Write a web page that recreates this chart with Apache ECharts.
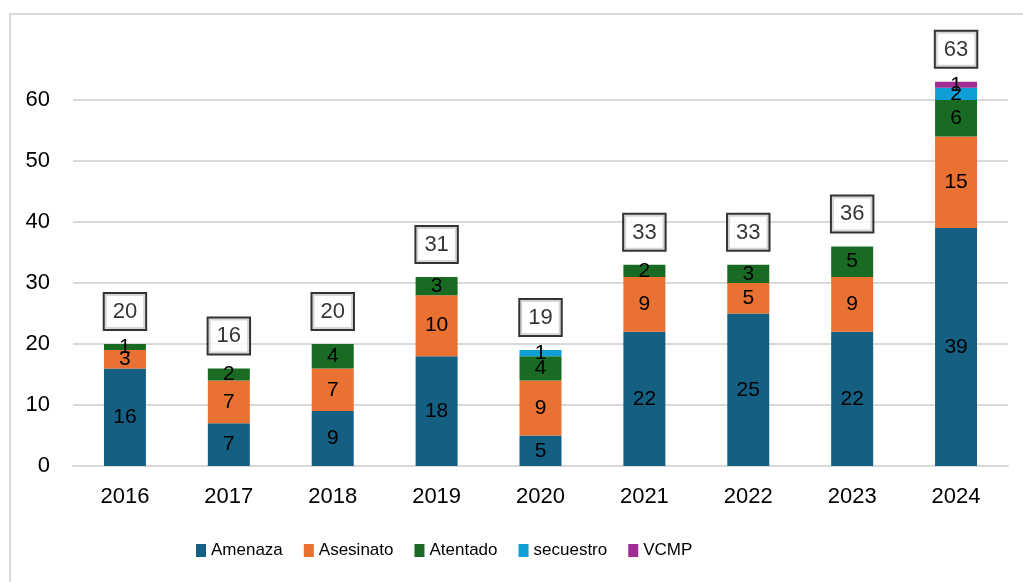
<!DOCTYPE html>
<html>
<head>
<meta charset="utf-8">
<script src="https://cdn.jsdelivr.net/npm/echarts@6/dist/echarts.min.js"></script>
<style>
html,body{margin:0;padding:0;background:#fff;}
#frame{position:absolute;left:9px;top:13px;width:1030px;height:600px;border:2px solid #d9d9d9;box-sizing:border-box;}
#c{position:absolute;left:0;top:0;width:1023px;height:582px;}
</style>
</head>
<body>
<div id="frame"></div>
<div id="c"></div>
<script>
const years = ['2016','2017','2018','2019','2020','2021','2022','2023','2024'];
const amenaza   = [16, 7, 9, 18, 5, 22, 25, 22, 39];
const asesinato = [3, 7, 7, 10, 9, 9, 5, 9, 15];
const atentado  = [1, 2, 4, 3, 4, 2, 3, 5, 6];
const secuestro = [0, 0, 0, 0, 1, 0, 0, 0, 2];
const vcmp      = [0, 0, 0, 0, 0, 0, 0, 0, 1];
const totals    = [20, 16, 20, 31, 19, 33, 33, 36, 63];

const FONT = '"Liberation Sans", Arial, sans-serif';
const names = ['Amenaza','Asesinato','Atentado','secuestro','VCMP'];
const colors = ['#156082','#E97132','#196B24','#0F9ED5','#A02B93'];
const values = [amenaza, asesinato, atentado, secuestro, vcmp];

const series = values.map((v, i) => ({
  name: names[i],
  type: 'bar',
  stack: 'total',
  barWidth: 42,
  data: v,
  itemStyle: { color: colors[i] },
  label: {
    show: true,
    position: 'inside',
    color: '#000',
    fontSize: 21,
    fontFamily: FONT,
    textBorderWidth: 0,
    formatter: p => p.value === 0 ? '' : String(p.value)
  }
}));
series.push({
  name: 'Total',
  type: 'scatter',
  data: totals,
  symbolSize: 0,
  silent: true,
  label: {
    show: true,
    position: 'top',
    distance: 15,
    color: '#000',
    fontSize: 22,
    fontFamily: FONT,
    lineHeight: 22,
    padding: [7, 8, 6, 8],
    borderColor: '#000',
    borderWidth: 2,
    textBorderWidth: 0,
    backgroundColor: '#fff',
    formatter: p => String(p.value)
  }
});

const chart = echarts.init(document.getElementById('c'));
chart.setOption({
  animation: false,
  textStyle: { fontFamily: FONT },
  grid: { left: 73, right: 15, top: 39, bottom: 116, containLabel: false },
  legend: {
    data: names,
    bottom: 18,
    left: 191,
    itemWidth: 10,
    itemHeight: 13,
    itemGap: 21,
    icon: 'rect',
    textStyle: { fontSize: 17, color: '#000', fontFamily: FONT }
  },
  xAxis: {
    type: 'category',
    data: years,
    axisTick: { show: false },
    axisLine: { lineStyle: { color: '#d9d9d9', width: 2 } },
    axisLabel: { fontSize: 22, color: '#000', margin: 20, fontFamily: FONT }
  },
  yAxis: {
    type: 'value',
    min: 0,
    max: 70,
    interval: 10,
    axisLine: { show: false },
    axisTick: { show: false },
    axisLabel: { fontSize: 22, color: '#000', margin: 23, showMaxLabel: false, fontFamily: FONT },
    splitLine: { showMaxLine: false, lineStyle: { color: '#d9d9d9', width: 2 } }
  },
  series: series
});
</script>
</body>
</html>
